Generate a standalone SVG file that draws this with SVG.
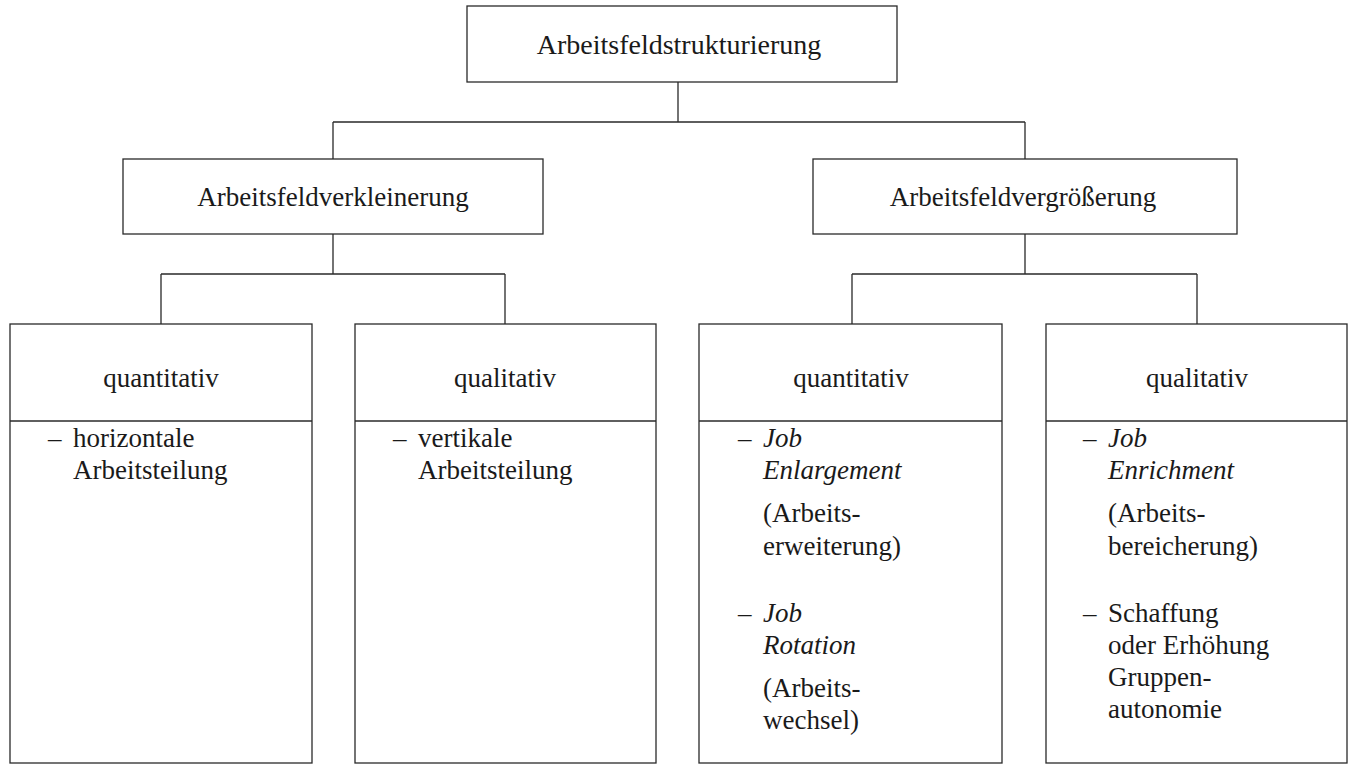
<svg xmlns="http://www.w3.org/2000/svg" width="1349" height="765" viewBox="0 0 1349 765">
<style>
rect.box{fill:none;stroke:#2a2a2a;stroke-width:1.3}
line.sep{stroke:#2a2a2a;stroke-width:1.3}
.conn path{fill:none;stroke:#2a2a2a;stroke-width:1.3}
text{font-family:"Liberation Serif","Times New Roman",serif;font-size:27px;fill:#1a1a1a}
text.c{text-anchor:middle}
text.t{font-size:28px}
.i{font-style:italic}
</style>
<rect width="1349" height="765" fill="#ffffff"/>
<g class="conn">
<path d="M678 82 V122 M333 122 H1025 M333 122 V159 M1025 122 V159"/>
<path d="M333 234 V274 M161 274 H505 M161 274 V324 M505 274 V324"/>
<path d="M1025 234 V274 M852 274 H1197 M852 274 V324 M1197 274 V324"/>
</g>
<g id="root">
<rect class="box" x="467" y="6" width="430" height="76"/>
<text class="c t" x="679" y="54">Arbeitsfeldstrukturierung</text>
</g>
<g id="verkleinerung">
<rect class="box" x="123" y="159" width="420" height="75"/>
<text class="c" x="333" y="206">Arbeitsfeldverkleinerung</text>
</g>
<g id="vergroesserung">
<rect class="box" x="813" y="159" width="424" height="75"/>
<text class="c" x="1023" y="206">Arbeitsfeldvergrößerung</text>
</g>
<g id="verkl-quantitativ">
<rect class="box" x="10" y="324" width="302" height="439"/>
<line class="sep" x1="10" y1="421" x2="312" y2="421"/>
<text class="c" x="161" y="387">quantitativ</text>
<text x="48" y="447">–</text>
<text x="73" y="447">horizontale</text>
<text x="73" y="479">Arbeitsteilung</text>
</g>
<g id="verkl-qualitativ">
<rect class="box" x="355" y="324" width="301" height="439"/>
<line class="sep" x1="355" y1="421" x2="656" y2="421"/>
<text class="c" x="505" y="387">qualitativ</text>
<text x="393" y="447">–</text>
<text x="418" y="447">vertikale</text>
<text x="418" y="479">Arbeitsteilung</text>
</g>
<g id="vergr-quantitativ">
<rect class="box" x="699" y="324" width="303" height="439"/>
<line class="sep" x1="699" y1="421" x2="1002" y2="421"/>
<text class="c" x="851" y="387">quantitativ</text>
<text x="738" y="447">–</text>
<text x="763" y="447" class="i">Job</text>
<text x="763" y="479" class="i">Enlargement</text>
<text x="763" y="522">(Arbeits-</text>
<text x="763" y="555">erweiterung)</text>
<text x="738" y="622">–</text>
<text x="763" y="622" class="i">Job</text>
<text x="763" y="654" class="i">Rotation</text>
<text x="763" y="697">(Arbeits-</text>
<text x="763" y="729">wechsel)</text>
</g>
<g id="vergr-qualitativ">
<rect class="box" x="1046" y="324" width="301" height="439"/>
<line class="sep" x1="1046" y1="421" x2="1347" y2="421"/>
<text class="c" x="1197" y="387">qualitativ</text>
<text x="1083" y="447">–</text>
<text x="1108" y="447" class="i">Job</text>
<text x="1108" y="479" class="i">Enrichment</text>
<text x="1108" y="522">(Arbeits-</text>
<text x="1108" y="555">bereicherung)</text>
<text x="1083" y="622">–</text>
<text x="1108" y="622">Schaffung</text>
<text x="1108" y="654">oder Erhöhung</text>
<text x="1108" y="686">Gruppen-</text>
<text x="1108" y="718">autonomie</text>
</g>
</svg>
